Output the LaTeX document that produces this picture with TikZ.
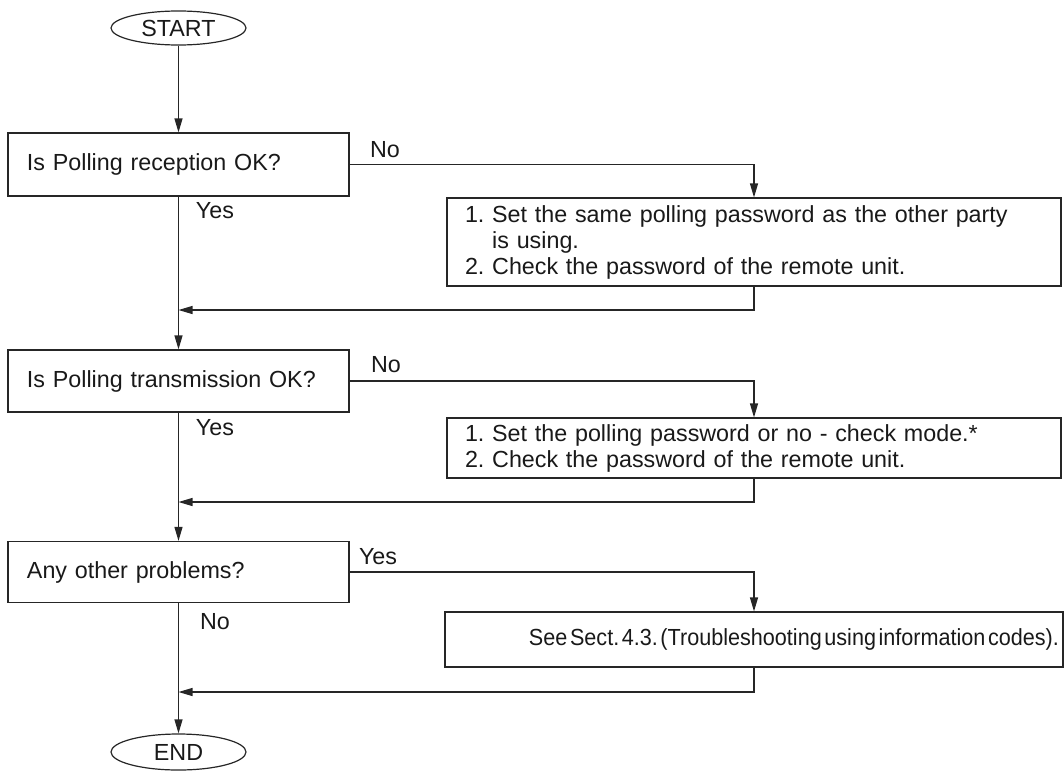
\documentclass[tikz,border=0pt]{standalone}
\usepackage{fontspec}
\usepackage{graphicx}
\setmainfont{Liberation Sans}
\usetikzlibrary{arrows.meta,shapes.geometric}
\begin{document}
\frenchspacing
\begin{tikzpicture}[x=1pt,y=-1pt,
  every node/.style={font=\fontsize{23.3pt}{26pt}\selectfont, inner sep=0pt, text=black!90},
  term/.style={ellipse, draw=black!85, line width=1.2pt, minimum width=135pt},
  qbox/.style={draw=black!85, line width=1.2pt, text width=303pt, inner xsep=19pt, align=left, minimum height=#1},
  abox/.style={draw=black!85, line width=1.2pt, text width=578pt, inner xsep=18pt, align=left, minimum height=#1},
  cbox/.style={draw=black!85, line width=1.2pt, minimum width=618pt, minimum height=#1},
  conn/.style={draw=black!85, line width=1.2pt},
  arr/.style={conn, -{Triangle[length=14pt,width=8pt]}}
]
\useasboundingbox (0,0) rectangle (1064,771);

\node[term, minimum height=34pt] (start) at (178.5,28) {START};
\node[qbox=63pt] (q1) at (178.5,164.5) {Is Polling reception OK?};
\node[qbox=62pt] (q2) at (178.5,381) {Is Polling transmission OK?};
\node[qbox=61pt] (q3) at (178.5,572) {Any other problems?};
\node[term, minimum height=36pt] (stop) at (178.5,752) {END};

\node[abox=88pt] (a1) at (754,242) {1. Set the same polling password as the other party\\\phantom{1. }is using.\\2. Check the password of the remote unit.};
\node[abox=60pt] (a2) at (754,448) {1. Set the polling password or no - check mode.*\\2. Check the password of the remote unit.};
\node[cbox=55pt] (a3) at (754,639.5) {\hspace*{80pt}\resizebox{530pt}{\height}{\spaceskip=0.12em\relax See Sect. 4.3. (Troubleshooting using information codes).}};

\node (n1) at (385,150) {No};
\node (y1) at (215,211) {Yes};
\node (n2) at (386,365) {No};
\node (y2) at (215,428) {Yes};
\node (y3) at (378,557) {Yes};
\node (n3) at (215,622) {No};

\coordinate (j1) at (178.5,310);
\coordinate (j2) at (178.5,502);
\coordinate (j3) at (178.5,692);

\draw[arr] (start.south) -- (q1.north);
\draw[arr] (q1.east) -| (a1.north);
\draw[arr] (a1.south) |- (j1);
\draw[arr] (q1.south) -- (q2.north);
\draw[arr] (q2.east) -| (a2.north);
\draw[arr] (a2.south) |- (j2);
\draw[arr] (q2.south) -- (q3.north);
\draw[arr] (q3.east) -| (a3.north);
\draw[arr] (a3.south) |- (j3);
\draw[arr] (q3.south) -- (stop.north);
\end{tikzpicture}
\end{document}
